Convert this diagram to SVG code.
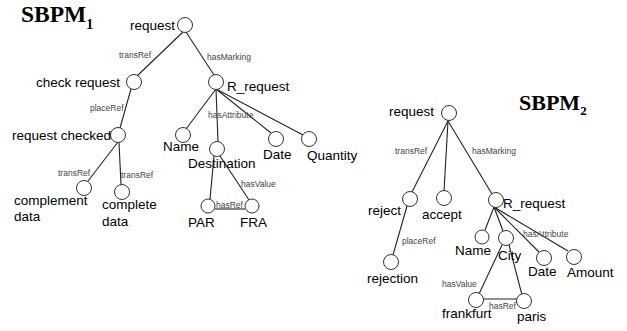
<svg xmlns="http://www.w3.org/2000/svg" width="627" height="331" viewBox="0 0 627 331">
<style>
.n{fill:#fff;stroke:#333;stroke-width:1}
.t{font-family:"Liberation Sans",Arial,sans-serif;font-size:13.5px;fill:#000}
.s{font-family:"Liberation Sans",Arial,sans-serif;font-size:8.5px;fill:#444}
.h{font-family:"Liberation Serif","Times New Roman",serif;font-weight:bold;fill:#000}
.e{stroke:#222;stroke-width:1.1;fill:none}
</style>
<rect width="627" height="331" fill="#fff"/>
<text class="h" x="21" y="22" font-size="23.5">SBPM<tspan font-size="14" dy="7">1</tspan></text>
<text class="h" x="519" y="110" font-size="22">SBPM<tspan font-size="13" dy="5">2</tspan></text>
<g id="edges">
<line class="e" x1="183" y1="32" x2="137" y2="76"/>
<line class="e" x1="186" y1="32" x2="214" y2="75"/>
<line class="e" x1="131" y1="89" x2="120" y2="128"/>
<line class="e" x1="118" y1="142" x2="88" y2="181"/>
<line class="e" x1="119" y1="142" x2="121" y2="185"/>
<line class="e" x1="216" y1="89" x2="186" y2="129"/>
<line class="e" x1="216" y1="89" x2="218" y2="142"/>
<line class="e" x1="216" y1="89" x2="271" y2="133"/>
<line class="e" x1="216" y1="89" x2="303" y2="135"/>
<line class="e" x1="214" y1="156" x2="210" y2="199"/>
<line class="e" x1="220" y1="156" x2="249" y2="200"/>
<line class="e" x1="215" y1="209" x2="245" y2="209"/>
<line class="e" x1="448" y1="121" x2="412" y2="192"/>
<line class="e" x1="448" y1="121" x2="444" y2="191"/>
<line class="e" x1="448" y1="121" x2="492" y2="194"/>
<line class="e" x1="407" y1="206" x2="393" y2="255"/>
<line class="e" x1="494" y1="207" x2="485" y2="230"/>
<line class="e" x1="494" y1="207" x2="503" y2="231"/>
<line class="e" x1="494" y1="207" x2="539" y2="252"/>
<line class="e" x1="494" y1="207" x2="568" y2="251"/>
<line class="e" x1="502" y1="245" x2="479" y2="294"/>
<line class="e" x1="509" y1="245" x2="522" y2="295"/>
<line class="e" x1="483" y1="299" x2="518" y2="299"/>
<text class="s" x="119" y="58">transRef</text>
<text class="s" x="207" y="60">hasMarking</text>
<text class="s" x="90" y="111">placeRef</text>
<text class="s" x="208" y="118">hasAttribute</text>
<text class="s" x="58" y="176">transRef</text>
<text class="s" x="121" y="178">transRef</text>
<text class="s" x="241" y="187">hasValue</text>
<text class="s" x="216" y="208">hasRef</text>
<text class="s" x="395" y="154">transRef</text>
<text class="s" x="472" y="154">hasMarking</text>
<text class="s" x="402" y="244">placeRef</text>
<text class="s" x="523" y="237">hasAttribute</text>
<text class="s" x="442" y="287">hasValue</text>
<text class="s" x="489" y="309">hasRef</text>
</g>
<g id="l-request"><circle class="n" cx="185" cy="25" r="7.5"/><text class="t" x="175" y="30" text-anchor="end">request</text></g>
<g id="l-check"><circle class="n" cx="134" cy="82" r="7.5"/><text class="t" x="120" y="87" text-anchor="end">check request</text></g>
<g id="l-rreq"><circle class="n" cx="216" cy="82" r="7.5"/><text class="t" x="227" y="91">R_request</text></g>
<g id="l-checked"><circle class="n" cx="118" cy="135" r="7.5"/><text class="t" x="111" y="140" text-anchor="end">request checked</text></g>
<g id="l-complement"><circle class="n" cx="84" cy="188" r="7.5"/><text class="t" x="14" y="205">complement</text><text class="t" x="14" y="221">data</text></g>
<g id="l-complete"><circle class="n" cx="122" cy="192" r="7.5"/><text class="t" x="102" y="209">complete</text><text class="t" x="102" y="226">data</text></g>
<g id="l-name"><circle class="n" cx="183" cy="135" r="7.5"/><text class="t" x="163" y="151">Name</text></g>
<g id="l-dest"><circle class="n" cx="217" cy="149" r="7.5"/><text class="t" x="188" y="168">Destination</text></g>
<g id="l-date"><circle class="n" cx="276" cy="139" r="7.5"/><text class="t" x="263" y="159">Date</text></g>
<g id="l-qty"><circle class="n" cx="309" cy="139" r="7.5"/><text class="t" x="307" y="160">Quantity</text></g>
<g id="l-par"><circle class="n" cx="208" cy="206" r="7"/><text class="t" x="188" y="227">PAR</text></g>
<g id="l-fra"><circle class="n" cx="252" cy="206" r="7"/><text class="t" x="240" y="227">FRA</text></g>
<g id="r-request"><circle class="n" cx="449" cy="113" r="7.5"/><text class="t" x="434" y="116" text-anchor="end">request</text></g>
<g id="r-reject"><circle class="n" cx="410" cy="199" r="7.5"/><text class="t" x="368" y="215">reject</text></g>
<g id="r-accept"><circle class="n" cx="444" cy="198" r="7.5"/><text class="t" x="422" y="219">accept</text></g>
<g id="r-rreq"><circle class="n" cx="496" cy="200" r="7.5"/><text class="t" x="503" y="208">R_request</text></g>
<g id="r-rejection"><circle class="n" cx="391" cy="262" r="7.5"/><text class="t" x="367" y="283">rejection</text></g>
<g id="r-name"><circle class="n" cx="482" cy="237" r="7"/><text class="t" x="455" y="255">Name</text></g>
<g id="r-city"><circle class="n" cx="506" cy="238" r="7.5"/><text class="t" x="498" y="260">City</text></g>
<g id="r-date"><circle class="n" cx="544" cy="258" r="7.5"/><text class="t" x="528" y="276">Date</text></g>
<g id="r-amount"><circle class="n" cx="574" cy="257" r="7.5"/><text class="t" x="567" y="277">Amount</text></g>
<g id="r-frankfurt"><circle class="n" cx="476" cy="300" r="7.5"/><text class="t" x="442" y="318">frankfurt</text></g>
<g id="r-paris"><circle class="n" cx="524" cy="301" r="7.5"/><text class="t" x="517" y="321">paris</text></g>
</svg>
